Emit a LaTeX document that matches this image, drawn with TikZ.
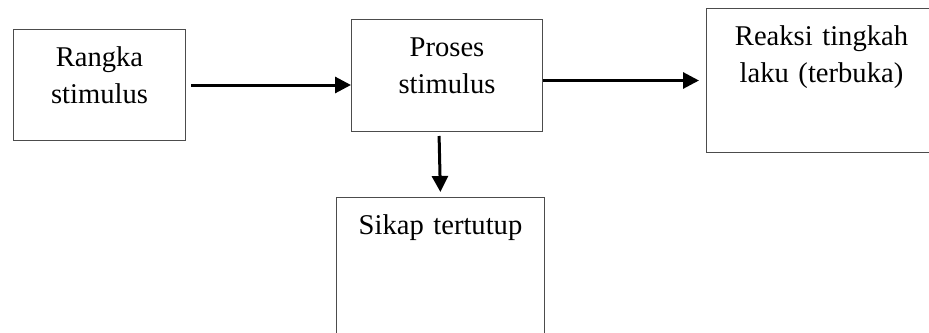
\documentclass[tikz,border=0pt]{standalone}
\usepackage{fontspec}
\setmainfont{Liberation Serif}
\usetikzlibrary{arrows.meta}

\begin{document}
\begin{tikzpicture}[
    x=1pt, y=-1pt,
    every node/.style={font=\fontsize{28.6}{37}\selectfont},
    kotak/.style={draw=black!70, line width=1pt, rectangle, anchor=north west,
        align=center, inner sep=0pt, text height=37pt},
    panah/.style={-{Triangle[length=16pt,width=16pt]}, line width=3pt}
]
\useasboundingbox (0,0) rectangle (929,332);
\clip (0,0) rectangle (929,332);

\node[kotak, text width=172pt, text depth=74pt] (rangka) at (13,29) {Rangka\\stimulus};
\node[kotak, text width=191pt, text depth=75pt] (proses) at (351,19) {Proses\\stimulus};
\node[kotak, text width=230pt, text depth=107pt] (reaksi) at (706,8) {Reaksi tingkah\\laku (terbuka)};
\node[kotak, text width=208pt, text depth=163pt] (sikap) at (336,197) {Sikap tertutup};

\draw[panah, shorten <=5pt] (rangka.east) -- (rangka.east -| proses.west);
\draw[panah, shorten >=7pt] (proses.east |- reaksi.west) -- (reaksi.west);
\draw[panah, shorten <=4pt, shorten >=5pt] ([xshift=-8pt]proses.south) -- (sikap.north);
\end{tikzpicture}
\end{document}
